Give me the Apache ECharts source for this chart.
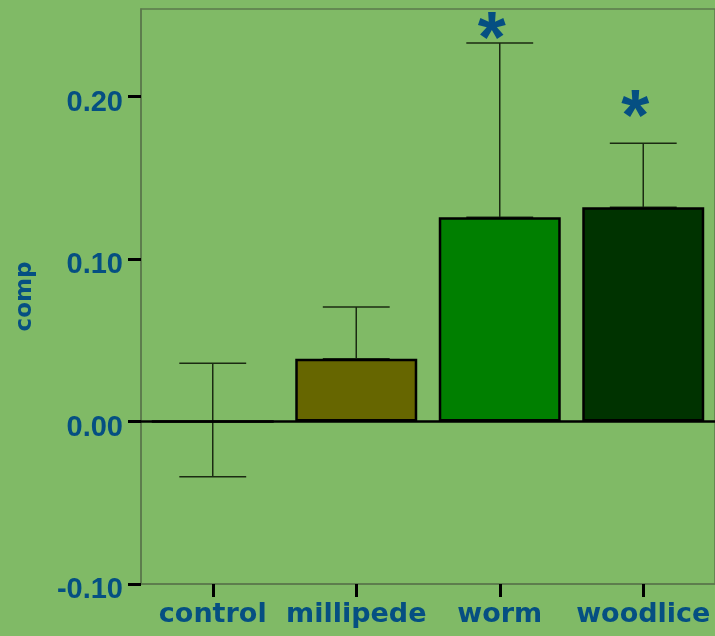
<!DOCTYPE html>
<html>
<head>
<meta charset="utf-8">
<script src="https://cdn.jsdelivr.net/npm/echarts@6/dist/echarts.min.js"></script>
<style>
html,body{margin:0;padding:0;background:#80ba66;}
#chart{width:715px;height:636px;}
</style>
</head>
<body>
<div id="chart"></div>
<script>
var categories = ['control', 'millipede', 'worm', 'woodlice'];
var means = [0, 0.0386, 0.1258, 0.132];
var errTop = [0.0359, 0.0706, 0.233, 0.1714];
var errBottom = [-0.0339, 0.0386, 0.1258, 0.132];
var sigMarks = ['', '', '*', '*'];
var sigValues = [null, null, 0.242, 0.1945];
var barColors = ['#6f8f5a', '#666600', '#007f00', '#003300'];
var yTicks = [-0.1, 0, 0.1, 0.2];

var textColor = '#054f82';
var axisGrey = '#5b7a4c';

var chart = echarts.init(document.getElementById('chart'), null, {renderer: 'canvas'});

var option = {
  backgroundColor: '#80ba66',
  animation: false,
  grid: {
    left: 141, top: 9, right: -2, bottom: 52,
    show: true, borderColor: axisGrey, borderWidth: 1.5, backgroundColor: 'transparent'
  },
  xAxis: {
    type: 'category',
    data: categories,
    boundaryGap: true,
    axisLine: {show: true, onZero: false, lineStyle: {color: axisGrey, width: 1.5}},
    axisTick: {show: true, alignWithLabel: true, interval: 0, length: 13, lineStyle: {color: '#000', width: 3}},
    axisLabel: {
      interval: 0,
      color: textColor, fontFamily: 'DejaVu Sans', fontWeight: 'bold', fontSize: 27, margin: 17
    },
    splitLine: {show: false}
  },
  yAxis: {
    type: 'value',
    min: -0.1, max: 0.254, interval: 0.1,
    name: 'comp',
    nameLocation: 'middle',
    nameRotate: 90,
    nameGap: 104,
    nameTextStyle: {color: textColor, fontFamily: 'DejaVu Sans', fontWeight: 'bold', fontSize: 23},
    axisLine: {show: true, lineStyle: {color: axisGrey, width: 1.5}},
    axisTick: {show: true, length: 13, customValues: yTicks, lineStyle: {color: '#000', width: 3}},
    axisLabel: {
      customValues: yTicks,
      color: textColor, fontFamily: 'Liberation Sans', fontWeight: 'bold', fontSize: 29, margin: 18,
      lineHeight: 12,
      formatter: function (v) { return '\n' + v.toFixed(2); }
    },
    splitLine: {show: false}
  },
  series: [
    {
      type: 'custom',
      z: 1,
      renderItem: function (params, api) {
        var i = api.value(0);
        var top = api.coord([i, api.value(1)]);
        var bot = api.coord([i, api.value(2)]);
        var half = api.size([1, 0])[0] * 0.233;
        var children = [
          {type: 'line', shape: {x1: top[0], y1: top[1], x2: bot[0], y2: bot[1]}, style: {stroke: '#1b2a12', lineWidth: 1.5}},
          {type: 'line', shape: {x1: top[0] - half, y1: top[1], x2: top[0] + half, y2: top[1]}, style: {stroke: '#1b2a12', lineWidth: 1.5}}
        ];
        if (api.value(3) < api.value(1)) {
          children.push({type: 'line', shape: {x1: bot[0] - half, y1: bot[1], x2: bot[0] + half, y2: bot[1]}, style: {stroke: '#1b2a12', lineWidth: 1.5}});
        }
        return {type: 'group', children: children};
      },
      data: categories.map(function (c, i) { return [i, errTop[i], errBottom[i], means[i]]; })
    },
    {
      type: 'bar',
      z: 2,
      barWidth: '85%',
      data: means.map(function (v, i) {
        return {value: v, itemStyle: {color: barColors[i], borderColor: '#000', borderWidth: 2.5}};
      }),
      markLine: {
        silent: true,
        symbol: 'none',
        label: {show: false},
        lineStyle: {color: '#000', width: 2.5, type: 'solid'},
        data: [{yAxis: 0}]
      }
    },
    {
      type: 'custom',
      z: 3,
      renderItem: function (params, api) {
        var i = api.value(0);
        var mark = sigMarks[i];
        if (!mark) return;
        var p = api.coord([i, api.value(1)]);
        return {
          type: 'text',
          style: {
            text: mark, x: p[0] - 8, y: p[1] + 14,
            align: 'center', verticalAlign: 'middle',
            fill: textColor, font: 'bold 72px "Liberation Sans"'
          }
        };
      },
      data: categories.map(function (c, i) { return [i, sigValues[i] === null ? 0 : sigValues[i]]; })
    }
  ]
};
chart.setOption(option);
</script>
</body>
</html>
